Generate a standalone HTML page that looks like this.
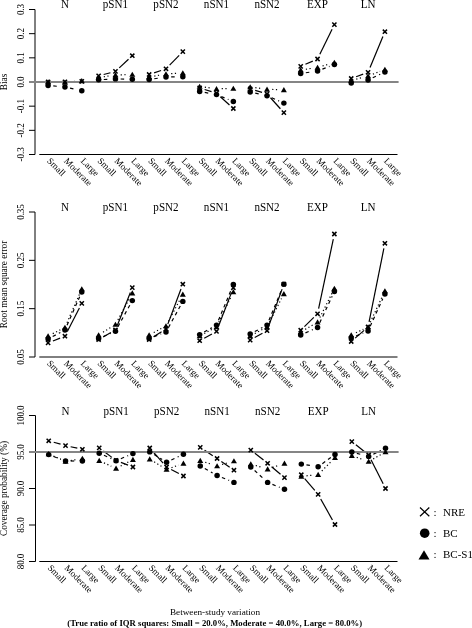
<!DOCTYPE html>
<html><head><meta charset="utf-8"><style>
html,body{margin:0;padding:0;background:#fff;}
svg{display:block;filter:grayscale(1);}
text{font-family:"Liberation Serif",serif;fill:#000;}
.ax{stroke:#000;stroke-width:1;}
.ref{stroke:#858585;stroke-width:2;}
.tk{font-size:9px;text-anchor:middle;}
.yl{font-size:9.3px;text-anchor:middle;}
.ti{font-size:11.1px;text-anchor:middle;}
.xl{font-size:9.2px;}
.dl line{stroke:#000;stroke-width:1.2;}
.sx path{stroke:#000;stroke-width:1.5;fill:none;}
.sf{fill:#000;}
.lg{font-size:11px;}
.bt{font-size:9.2px;text-anchor:middle;}
.bb{font-size:8.7px;font-weight:bold;text-anchor:middle;}
</style></head><body>
<svg width="472" height="628" viewBox="0 0 472 628">
<line x1="35" y1="9.5" x2="35" y2="154.5" class="ax"/>
<line x1="29" y1="9.5" x2="35" y2="9.5" class="ax"/>
<text transform="translate(23.8 9.5) rotate(-90) scale(1 1.14)" class="tk">0.3</text>
<line x1="29" y1="33.66666666666667" x2="35" y2="33.66666666666667" class="ax"/>
<text transform="translate(23.8 33.66666666666667) rotate(-90) scale(1 1.14)" class="tk">0.2</text>
<line x1="29" y1="57.833333333333336" x2="35" y2="57.833333333333336" class="ax"/>
<text transform="translate(23.8 57.833333333333336) rotate(-90) scale(1 1.14)" class="tk">0.1</text>
<line x1="29" y1="82.0" x2="35" y2="82.0" class="ax"/>
<text transform="translate(23.8 82.0) rotate(-90) scale(1 1.14)" class="tk">0.0</text>
<line x1="29" y1="106.16666666666667" x2="35" y2="106.16666666666667" class="ax"/>
<text transform="translate(23.8 106.16666666666667) rotate(-90) scale(1 1.14)" class="tk">-0.1</text>
<line x1="29" y1="130.33333333333331" x2="35" y2="130.33333333333331" class="ax"/>
<text transform="translate(23.8 130.33333333333331) rotate(-90) scale(1 1.14)" class="tk">-0.2</text>
<line x1="29" y1="154.5" x2="35" y2="154.5" class="ax"/>
<text transform="translate(23.8 154.5) rotate(-90) scale(1 1.14)" class="tk">-0.3</text>
<text transform="translate(7 82.0) rotate(-90)" class="yl">Bias</text>
<line x1="39.3" y1="154.5" x2="397.5" y2="154.5" class="ax"/>
<text transform="translate(64.94 7.6) scale(1 1.1)" class="ti">N</text>
<text transform="translate(115.46 7.6) scale(1 1.1)" class="ti">pSN1</text>
<text transform="translate(165.98 7.6) scale(1 1.1)" class="ti">pSN2</text>
<text transform="translate(216.50 7.6) scale(1 1.1)" class="ti">nSN1</text>
<text transform="translate(267.02 7.6) scale(1 1.1)" class="ti">nSN2</text>
<text transform="translate(317.54 7.6) scale(1 1.1)" class="ti">EXP</text>
<text transform="translate(368.06 7.6) scale(1 1.1)" class="ti">LN</text>
<text transform="translate(46.60 161.5) rotate(45)" class="xl">Small</text>
<text transform="translate(63.44 161.5) rotate(45)" class="xl">Moderate</text>
<text transform="translate(80.28 161.5) rotate(45)" class="xl">Large</text>
<text transform="translate(97.12 161.5) rotate(45)" class="xl">Small</text>
<text transform="translate(113.96 161.5) rotate(45)" class="xl">Moderate</text>
<text transform="translate(130.80 161.5) rotate(45)" class="xl">Large</text>
<text transform="translate(147.64 161.5) rotate(45)" class="xl">Small</text>
<text transform="translate(164.48 161.5) rotate(45)" class="xl">Moderate</text>
<text transform="translate(181.32 161.5) rotate(45)" class="xl">Large</text>
<text transform="translate(198.16 161.5) rotate(45)" class="xl">Small</text>
<text transform="translate(215.00 161.5) rotate(45)" class="xl">Moderate</text>
<text transform="translate(231.84 161.5) rotate(45)" class="xl">Large</text>
<text transform="translate(248.68 161.5) rotate(45)" class="xl">Small</text>
<text transform="translate(265.52 161.5) rotate(45)" class="xl">Moderate</text>
<text transform="translate(282.36 161.5) rotate(45)" class="xl">Large</text>
<text transform="translate(299.20 161.5) rotate(45)" class="xl">Small</text>
<text transform="translate(316.04 161.5) rotate(45)" class="xl">Moderate</text>
<text transform="translate(332.88 161.5) rotate(45)" class="xl">Large</text>
<text transform="translate(349.72 161.5) rotate(45)" class="xl">Small</text>
<text transform="translate(366.56 161.5) rotate(45)" class="xl">Moderate</text>
<text transform="translate(383.40 161.5) rotate(45)" class="xl">Large</text>
<g class="dl"><line x1="53.30" y1="81.94" x2="59.74" y2="81.86"/><line x1="70.14" y1="81.68" x2="76.58" y2="81.52"/><line x1="53.28" y1="85.96" x2="59.76" y2="86.54" stroke-dasharray="3.5,3.5"/><line x1="70.01" y1="88.14" x2="76.71" y2="89.66" stroke-dasharray="3.5,3.5"/><line x1="53.30" y1="82.09" x2="59.74" y2="82.21" stroke-dasharray="1.2,2.5"/><line x1="70.12" y1="81.87" x2="76.60" y2="81.33" stroke-dasharray="1.2,2.5"/><line x1="103.65" y1="74.49" x2="110.43" y2="72.71"/><line x1="119.26" y1="67.85" x2="128.50" y2="59.25"/><line x1="103.81" y1="79.52" x2="110.27" y2="79.18" stroke-dasharray="3.5,3.5"/><line x1="120.66" y1="78.99" x2="127.10" y2="79.11" stroke-dasharray="3.5,3.5"/><line x1="103.76" y1="76.74" x2="110.32" y2="75.76" stroke-dasharray="1.2,2.5"/><line x1="120.66" y1="74.85" x2="127.10" y2="74.65" stroke-dasharray="1.2,2.5"/><line x1="154.07" y1="72.83" x2="161.05" y2="70.47"/><line x1="169.62" y1="65.08" x2="179.18" y2="55.32"/><line x1="154.28" y1="78.74" x2="160.84" y2="77.76" stroke-dasharray="3.5,3.5"/><line x1="171.18" y1="76.94" x2="177.62" y2="76.86" stroke-dasharray="3.5,3.5"/><line x1="154.26" y1="76.09" x2="160.86" y2="74.91" stroke-dasharray="1.2,2.5"/><line x1="171.17" y1="73.69" x2="177.63" y2="73.31" stroke-dasharray="1.2,2.5"/><line x1="204.63" y1="89.53" x2="211.53" y2="91.67"/><line x1="220.35" y1="96.70" x2="229.49" y2="105.00"/><line x1="204.77" y1="92.44" x2="211.39" y2="93.66" stroke-dasharray="3.5,3.5"/><line x1="221.31" y1="96.57" x2="228.53" y2="99.53" stroke-dasharray="3.5,3.5"/><line x1="204.81" y1="87.20" x2="211.35" y2="88.10" stroke-dasharray="1.2,2.5"/><line x1="221.70" y1="88.71" x2="228.14" y2="88.59" stroke-dasharray="1.2,2.5"/><line x1="255.17" y1="90.45" x2="262.03" y2="92.45"/><line x1="270.50" y1="97.76" x2="280.38" y2="108.74"/><line x1="255.26" y1="93.12" x2="261.94" y2="94.58" stroke-dasharray="3.5,3.5"/><line x1="271.78" y1="97.79" x2="279.10" y2="101.01" stroke-dasharray="3.5,3.5"/><line x1="255.33" y1="87.70" x2="261.87" y2="88.60" stroke-dasharray="1.2,2.5"/><line x1="272.22" y1="89.45" x2="278.66" y2="89.65" stroke-dasharray="1.2,2.5"/><line x1="305.46" y1="64.31" x2="312.78" y2="61.09"/><line x1="319.83" y1="54.33" x2="332.09" y2="29.27"/><line x1="305.84" y1="72.74" x2="312.40" y2="71.76" stroke-dasharray="3.5,3.5"/><line x1="322.39" y1="69.13" x2="329.53" y2="66.37" stroke-dasharray="3.5,3.5"/><line x1="305.84" y1="69.24" x2="312.40" y2="68.26" stroke-dasharray="1.2,2.5"/><line x1="322.52" y1="66.02" x2="329.40" y2="63.98" stroke-dasharray="1.2,2.5"/><line x1="356.10" y1="76.70" x2="363.18" y2="74.10"/><line x1="370.05" y1="67.50" x2="382.91" y2="36.50"/><line x1="356.34" y1="82.09" x2="362.94" y2="80.91" stroke-dasharray="3.5,3.5"/><line x1="372.76" y1="77.77" x2="380.20" y2="74.23" stroke-dasharray="3.5,3.5"/><line x1="356.24" y1="79.16" x2="363.04" y2="77.34" stroke-dasharray="1.2,2.5"/><line x1="372.91" y1="74.13" x2="380.05" y2="71.37" stroke-dasharray="1.2,2.5"/></g>
<line x1="29.2" y1="82" x2="398.6" y2="82" class="ref"/>
<g class="sx"><path d="M46.00 79.90L50.20 84.10M46.00 84.10L50.20 79.90"/><path d="M62.84 79.70L67.04 83.90M62.84 83.90L67.04 79.70"/><path d="M79.68 79.30L83.88 83.50M79.68 83.50L83.88 79.30"/><path d="M96.52 73.70L100.72 77.90M96.52 77.90L100.72 73.70"/><path d="M113.36 69.30L117.56 73.50M113.36 73.50L117.56 69.30"/><path d="M130.20 53.60L134.40 57.80M130.20 57.80L134.40 53.60"/><path d="M147.04 72.40L151.24 76.60M147.04 76.60L151.24 72.40"/><path d="M163.88 66.70L168.08 70.90M163.88 70.90L168.08 66.70"/><path d="M180.72 49.50L184.92 53.70M180.72 53.70L184.92 49.50"/><path d="M197.56 85.90L201.76 90.10M197.56 90.10L201.76 85.90"/><path d="M214.40 91.10L218.60 95.30M214.40 95.30L218.60 91.10"/><path d="M231.24 106.40L235.44 110.60M231.24 110.60L235.44 106.40"/><path d="M248.08 86.90L252.28 91.10M248.08 91.10L252.28 86.90"/><path d="M264.92 91.80L269.12 96.00M264.92 96.00L269.12 91.80"/><path d="M281.76 110.50L285.96 114.70M281.76 114.70L285.96 110.50"/><path d="M298.60 64.30L302.80 68.50M298.60 68.50L302.80 64.30"/><path d="M315.44 56.90L319.64 61.10M315.44 61.10L319.64 56.90"/><path d="M332.28 22.50L336.48 26.70M332.28 26.70L336.48 22.50"/><path d="M349.12 76.40L353.32 80.60M349.12 80.60L353.32 76.40"/><path d="M365.96 70.20L370.16 74.40M365.96 74.40L370.16 70.20"/><path d="M382.80 29.60L387.00 33.80M382.80 33.80L387.00 29.60"/></g>
<g class="sf"><ellipse cx="48.10" cy="85.50" rx="2.75" ry="2.7"/><ellipse cx="64.94" cy="87.00" rx="2.75" ry="2.7"/><ellipse cx="81.78" cy="90.80" rx="2.75" ry="2.7"/><ellipse cx="98.62" cy="79.80" rx="2.75" ry="2.7"/><ellipse cx="115.46" cy="78.90" rx="2.75" ry="2.7"/><ellipse cx="132.30" cy="79.20" rx="2.75" ry="2.7"/><ellipse cx="149.14" cy="79.50" rx="2.75" ry="2.7"/><ellipse cx="165.98" cy="77.00" rx="2.75" ry="2.7"/><ellipse cx="182.82" cy="76.80" rx="2.75" ry="2.7"/><ellipse cx="199.66" cy="91.50" rx="2.75" ry="2.7"/><ellipse cx="216.50" cy="94.60" rx="2.75" ry="2.7"/><ellipse cx="233.34" cy="101.50" rx="2.75" ry="2.7"/><ellipse cx="250.18" cy="92.00" rx="2.75" ry="2.7"/><ellipse cx="267.02" cy="95.70" rx="2.75" ry="2.7"/><ellipse cx="283.86" cy="103.10" rx="2.75" ry="2.7"/><ellipse cx="300.70" cy="73.50" rx="2.75" ry="2.7"/><ellipse cx="317.54" cy="71.00" rx="2.75" ry="2.7"/><ellipse cx="334.38" cy="64.50" rx="2.75" ry="2.7"/><ellipse cx="351.22" cy="83.00" rx="2.75" ry="2.7"/><ellipse cx="368.06" cy="80.00" rx="2.75" ry="2.7"/><ellipse cx="384.90" cy="72.00" rx="2.75" ry="2.7"/><path d="M48.10 79.14L51.10 84.34L45.10 84.34Z"/><path d="M64.94 79.44L67.94 84.64L61.94 84.64Z"/><path d="M81.78 78.04L84.78 83.24L78.78 83.24Z"/><path d="M98.62 74.64L101.62 79.84L95.62 79.84Z"/><path d="M115.46 72.14L118.46 77.34L112.46 77.34Z"/><path d="M132.30 71.64L135.30 76.84L129.30 76.84Z"/><path d="M149.14 74.14L152.14 79.34L146.14 79.34Z"/><path d="M165.98 71.14L168.98 76.34L162.98 76.34Z"/><path d="M182.82 70.14L185.82 75.34L179.82 75.34Z"/><path d="M199.66 83.64L202.66 88.84L196.66 88.84Z"/><path d="M216.50 85.94L219.50 91.14L213.50 91.14Z"/><path d="M233.34 85.64L236.34 90.84L230.34 90.84Z"/><path d="M250.18 84.14L253.18 89.34L247.18 89.34Z"/><path d="M267.02 86.44L270.02 91.64L264.02 91.64Z"/><path d="M283.86 86.94L286.86 92.14L280.86 92.14Z"/><path d="M300.70 67.14L303.70 72.34L297.70 72.34Z"/><path d="M317.54 64.64L320.54 69.84L314.54 69.84Z"/><path d="M334.38 59.64L337.38 64.84L331.38 64.84Z"/><path d="M351.22 77.64L354.22 82.84L348.22 82.84Z"/><path d="M368.06 73.14L371.06 78.34L365.06 78.34Z"/><path d="M384.90 66.64L387.90 71.84L381.90 71.84Z"/></g>
<line x1="35" y1="212" x2="35" y2="357" class="ax"/>
<line x1="29" y1="212.0" x2="35" y2="212.0" class="ax"/>
<text transform="translate(23.8 212.0) rotate(-90) scale(1 1.14)" class="tk">0.35</text>
<line x1="29" y1="260.3333333333333" x2="35" y2="260.3333333333333" class="ax"/>
<text transform="translate(23.8 260.3333333333333) rotate(-90) scale(1 1.14)" class="tk">0.25</text>
<line x1="29" y1="308.6666666666667" x2="35" y2="308.6666666666667" class="ax"/>
<text transform="translate(23.8 308.6666666666667) rotate(-90) scale(1 1.14)" class="tk">0.15</text>
<line x1="29" y1="357.0" x2="35" y2="357.0" class="ax"/>
<text transform="translate(23.8 357.0) rotate(-90) scale(1 1.14)" class="tk">0.05</text>
<text transform="translate(7 284.5) rotate(-90)" class="yl">Root mean square error</text>
<line x1="39.3" y1="357" x2="397.5" y2="357" class="ax"/>
<text transform="translate(64.94 210.6) scale(1 1.1)" class="ti">N</text>
<text transform="translate(115.46 210.6) scale(1 1.1)" class="ti">pSN1</text>
<text transform="translate(165.98 210.6) scale(1 1.1)" class="ti">pSN2</text>
<text transform="translate(216.50 210.6) scale(1 1.1)" class="ti">nSN1</text>
<text transform="translate(267.02 210.6) scale(1 1.1)" class="ti">nSN2</text>
<text transform="translate(317.54 210.6) scale(1 1.1)" class="ti">EXP</text>
<text transform="translate(368.06 210.6) scale(1 1.1)" class="ti">LN</text>
<text transform="translate(46.60 364) rotate(45)" class="xl">Small</text>
<text transform="translate(63.44 364) rotate(45)" class="xl">Moderate</text>
<text transform="translate(80.28 364) rotate(45)" class="xl">Large</text>
<text transform="translate(97.12 364) rotate(45)" class="xl">Small</text>
<text transform="translate(113.96 364) rotate(45)" class="xl">Moderate</text>
<text transform="translate(130.80 364) rotate(45)" class="xl">Large</text>
<text transform="translate(147.64 364) rotate(45)" class="xl">Small</text>
<text transform="translate(164.48 364) rotate(45)" class="xl">Moderate</text>
<text transform="translate(181.32 364) rotate(45)" class="xl">Large</text>
<text transform="translate(198.16 364) rotate(45)" class="xl">Small</text>
<text transform="translate(215.00 364) rotate(45)" class="xl">Moderate</text>
<text transform="translate(231.84 364) rotate(45)" class="xl">Large</text>
<text transform="translate(248.68 364) rotate(45)" class="xl">Small</text>
<text transform="translate(265.52 364) rotate(45)" class="xl">Moderate</text>
<text transform="translate(282.36 364) rotate(45)" class="xl">Large</text>
<text transform="translate(299.20 364) rotate(45)" class="xl">Small</text>
<text transform="translate(316.04 364) rotate(45)" class="xl">Moderate</text>
<text transform="translate(332.88 364) rotate(45)" class="xl">Large</text>
<text transform="translate(349.72 364) rotate(45)" class="xl">Small</text>
<text transform="translate(366.56 364) rotate(45)" class="xl">Moderate</text>
<text transform="translate(383.40 364) rotate(45)" class="xl">Large</text>
<g class="dl"><line x1="52.93" y1="340.98" x2="60.11" y2="338.12"/><line x1="67.32" y1="331.57" x2="79.40" y2="308.03"/><line x1="52.69" y1="336.55" x2="60.35" y2="332.45" stroke-dasharray="3.5,3.5"/><line x1="67.05" y1="325.25" x2="79.67" y2="296.75" stroke-dasharray="3.5,3.5"/><line x1="52.74" y1="333.66" x2="60.30" y2="329.84" stroke-dasharray="1.2,2.5"/><line x1="67.02" y1="322.74" x2="79.70" y2="293.76" stroke-dasharray="1.2,2.5"/><line x1="103.15" y1="336.95" x2="110.93" y2="332.55"/><line x1="117.38" y1="325.17" x2="130.38" y2="292.43"/><line x1="103.39" y1="336.43" x2="110.69" y2="333.27" stroke-dasharray="3.5,3.5"/><line x1="117.97" y1="326.64" x2="129.79" y2="305.16" stroke-dasharray="3.5,3.5"/><line x1="103.03" y1="332.25" x2="111.05" y2="327.25" stroke-dasharray="1.2,2.5"/><line x1="117.92" y1="319.92" x2="129.84" y2="297.68" stroke-dasharray="1.2,2.5"/><line x1="153.55" y1="336.75" x2="161.57" y2="331.75"/><line x1="167.81" y1="324.13" x2="180.99" y2="289.07"/><line x1="153.99" y1="336.63" x2="161.13" y2="333.87" stroke-dasharray="3.5,3.5"/><line x1="168.49" y1="327.44" x2="180.31" y2="305.96" stroke-dasharray="3.5,3.5"/><line x1="153.73" y1="332.55" x2="161.39" y2="328.45" stroke-dasharray="1.2,2.5"/><line x1="168.42" y1="321.41" x2="180.38" y2="298.89" stroke-dasharray="1.2,2.5"/><line x1="204.21" y1="338.19" x2="211.95" y2="333.91"/><line x1="218.37" y1="326.55" x2="231.47" y2="292.65"/><line x1="204.19" y1="332.05" x2="211.97" y2="327.65" stroke-dasharray="3.5,3.5"/><line x1="218.49" y1="320.30" x2="231.35" y2="289.30" stroke-dasharray="3.5,3.5"/><line x1="204.25" y1="333.55" x2="211.91" y2="329.45" stroke-dasharray="1.2,2.5"/><line x1="218.75" y1="322.31" x2="231.09" y2="296.69" stroke-dasharray="1.2,2.5"/><line x1="254.72" y1="337.57" x2="262.48" y2="333.23"/><line x1="268.79" y1="325.81" x2="282.09" y2="289.09"/><line x1="254.78" y1="331.57" x2="262.42" y2="327.53" stroke-dasharray="3.5,3.5"/><line x1="269.00" y1="320.29" x2="281.88" y2="289.01" stroke-dasharray="3.5,3.5"/><line x1="254.77" y1="333.55" x2="262.43" y2="329.45" stroke-dasharray="1.2,2.5"/><line x1="269.38" y1="322.37" x2="281.50" y2="298.53" stroke-dasharray="1.2,2.5"/><line x1="304.43" y1="326.57" x2="313.81" y2="317.43"/><line x1="318.61" y1="308.71" x2="333.31" y2="239.09"/><line x1="305.45" y1="332.88" x2="312.79" y2="329.62" stroke-dasharray="3.5,3.5"/><line x1="319.74" y1="322.79" x2="332.18" y2="296.21" stroke-dasharray="3.5,3.5"/><line x1="305.19" y1="329.38" x2="313.05" y2="324.82" stroke-dasharray="1.2,2.5"/><line x1="319.86" y1="317.55" x2="332.06" y2="293.15" stroke-dasharray="1.2,2.5"/><line x1="355.16" y1="338.11" x2="364.12" y2="330.39"/><line x1="369.09" y1="321.90" x2="383.87" y2="248.40"/><line x1="356.02" y1="336.00" x2="363.26" y2="333.00" stroke-dasharray="3.5,3.5"/><line x1="370.21" y1="326.27" x2="382.75" y2="298.73" stroke-dasharray="3.5,3.5"/><line x1="355.92" y1="332.77" x2="363.36" y2="329.23" stroke-dasharray="1.2,2.5"/><line x1="370.26" y1="322.29" x2="382.70" y2="295.71" stroke-dasharray="1.2,2.5"/></g>
<g class="sx"><path d="M46.00 340.80L50.20 345.00M46.00 345.00L50.20 340.80"/><path d="M62.84 334.10L67.04 338.30M62.84 338.30L67.04 334.10"/><path d="M79.68 301.30L83.88 305.50M79.68 305.50L83.88 301.30"/><path d="M96.52 337.40L100.72 341.60M96.52 341.60L100.72 337.40"/><path d="M113.36 327.90L117.56 332.10M113.36 332.10L117.56 327.90"/><path d="M130.20 285.50L134.40 289.70M130.20 289.70L134.40 285.50"/><path d="M147.04 337.40L151.24 341.60M147.04 341.60L151.24 337.40"/><path d="M163.88 326.90L168.08 331.10M163.88 331.10L168.08 326.90"/><path d="M180.72 282.10L184.92 286.30M180.72 286.30L184.92 282.10"/><path d="M197.56 338.60L201.76 342.80M197.56 342.80L201.76 338.60"/><path d="M214.40 329.30L218.60 333.50M214.40 333.50L218.60 329.30"/><path d="M231.24 285.70L235.44 289.90M231.24 289.90L235.44 285.70"/><path d="M248.08 338.00L252.28 342.20M248.08 342.20L252.28 338.00"/><path d="M264.92 328.60L269.12 332.80M264.92 332.80L269.12 328.60"/><path d="M281.76 282.10L285.96 286.30M281.76 286.30L285.96 282.10"/><path d="M298.60 328.10L302.80 332.30M298.60 332.30L302.80 328.10"/><path d="M315.44 311.70L319.64 315.90M315.44 315.90L319.64 311.70"/><path d="M332.28 231.90L336.48 236.10M332.28 236.10L336.48 231.90"/><path d="M349.12 339.40L353.32 343.60M349.12 343.60L353.32 339.40"/><path d="M365.96 324.90L370.16 329.10M365.96 329.10L370.16 324.90"/><path d="M382.80 241.20L387.00 245.40M382.80 245.40L387.00 241.20"/></g>
<g class="sf"><ellipse cx="48.10" cy="339.00" rx="2.75" ry="2.7"/><ellipse cx="64.94" cy="330.00" rx="2.75" ry="2.7"/><ellipse cx="81.78" cy="292.00" rx="2.75" ry="2.7"/><ellipse cx="98.62" cy="338.50" rx="2.75" ry="2.7"/><ellipse cx="115.46" cy="331.20" rx="2.75" ry="2.7"/><ellipse cx="132.30" cy="300.60" rx="2.75" ry="2.7"/><ellipse cx="149.14" cy="338.50" rx="2.75" ry="2.7"/><ellipse cx="165.98" cy="332.00" rx="2.75" ry="2.7"/><ellipse cx="182.82" cy="301.40" rx="2.75" ry="2.7"/><ellipse cx="199.66" cy="334.60" rx="2.75" ry="2.7"/><ellipse cx="216.50" cy="325.10" rx="2.75" ry="2.7"/><ellipse cx="233.34" cy="284.50" rx="2.75" ry="2.7"/><ellipse cx="250.18" cy="334.00" rx="2.75" ry="2.7"/><ellipse cx="267.02" cy="325.10" rx="2.75" ry="2.7"/><ellipse cx="283.86" cy="284.20" rx="2.75" ry="2.7"/><ellipse cx="300.70" cy="335.00" rx="2.75" ry="2.7"/><ellipse cx="317.54" cy="327.50" rx="2.75" ry="2.7"/><ellipse cx="334.38" cy="291.50" rx="2.75" ry="2.7"/><ellipse cx="351.22" cy="338.00" rx="2.75" ry="2.7"/><ellipse cx="368.06" cy="331.00" rx="2.75" ry="2.7"/><ellipse cx="384.90" cy="294.00" rx="2.75" ry="2.7"/><path d="M48.10 333.14L51.10 338.34L45.10 338.34Z"/><path d="M64.94 324.64L67.94 329.84L61.94 329.84Z"/><path d="M81.78 286.14L84.78 291.34L78.78 291.34Z"/><path d="M98.62 332.14L101.62 337.34L95.62 337.34Z"/><path d="M115.46 321.64L118.46 326.84L112.46 326.84Z"/><path d="M132.30 290.24L135.30 295.44L129.30 295.44Z"/><path d="M149.14 332.14L152.14 337.34L146.14 337.34Z"/><path d="M165.98 323.14L168.98 328.34L162.98 328.34Z"/><path d="M182.82 291.44L185.82 296.64L179.82 296.64Z"/><path d="M199.66 333.14L202.66 338.34L196.66 338.34Z"/><path d="M216.50 324.14L219.50 329.34L213.50 329.34Z"/><path d="M233.34 289.14L236.34 294.34L230.34 294.34Z"/><path d="M250.18 333.14L253.18 338.34L247.18 338.34Z"/><path d="M267.02 324.14L270.02 329.34L264.02 329.34Z"/><path d="M283.86 291.04L286.86 296.24L280.86 296.24Z"/><path d="M300.70 329.14L303.70 334.34L297.70 334.34Z"/><path d="M317.54 319.34L320.54 324.54L314.54 324.54Z"/><path d="M334.38 285.64L337.38 290.84L331.38 290.84Z"/><path d="M351.22 332.14L354.22 337.34L348.22 337.34Z"/><path d="M368.06 324.14L371.06 329.34L365.06 329.34Z"/><path d="M384.90 288.14L387.90 293.34L381.90 293.34Z"/></g>
<line x1="35.5" y1="415.5" x2="35.5" y2="561.5" class="ax"/>
<line x1="29" y1="415.5" x2="35.5" y2="415.5" class="ax"/>
<text transform="translate(23.8 415.5) rotate(-90) scale(1 1.14)" class="tk">100.0</text>
<line x1="29" y1="452.0" x2="35.5" y2="452.0" class="ax"/>
<text transform="translate(23.8 452.0) rotate(-90) scale(1 1.14)" class="tk">95.0</text>
<line x1="29" y1="488.5" x2="35.5" y2="488.5" class="ax"/>
<text transform="translate(23.8 488.5) rotate(-90) scale(1 1.14)" class="tk">90.0</text>
<line x1="29" y1="525.0" x2="35.5" y2="525.0" class="ax"/>
<text transform="translate(23.8 525.0) rotate(-90) scale(1 1.14)" class="tk">85.0</text>
<line x1="29" y1="561.5" x2="35.5" y2="561.5" class="ax"/>
<text transform="translate(23.8 561.5) rotate(-90) scale(1 1.14)" class="tk">80.0</text>
<text transform="translate(7 488.5) rotate(-90)" class="yl">Coverage probability (%)</text>
<line x1="39.3" y1="561.5" x2="397.5" y2="561.5" class="ax"/>
<text transform="translate(65.54 414.8) scale(1 1.1)" class="ti">N</text>
<text transform="translate(116.06 414.8) scale(1 1.1)" class="ti">pSN1</text>
<text transform="translate(166.58 414.8) scale(1 1.1)" class="ti">pSN2</text>
<text transform="translate(217.10 414.8) scale(1 1.1)" class="ti">nSN1</text>
<text transform="translate(267.62 414.8) scale(1 1.1)" class="ti">nSN2</text>
<text transform="translate(318.14 414.8) scale(1 1.1)" class="ti">EXP</text>
<text transform="translate(368.66 414.8) scale(1 1.1)" class="ti">LN</text>
<text transform="translate(47.20 568.5) rotate(45)" class="xl">Small</text>
<text transform="translate(64.04 568.5) rotate(45)" class="xl">Moderate</text>
<text transform="translate(80.88 568.5) rotate(45)" class="xl">Large</text>
<text transform="translate(97.72 568.5) rotate(45)" class="xl">Small</text>
<text transform="translate(114.56 568.5) rotate(45)" class="xl">Moderate</text>
<text transform="translate(131.40 568.5) rotate(45)" class="xl">Large</text>
<text transform="translate(148.24 568.5) rotate(45)" class="xl">Small</text>
<text transform="translate(165.08 568.5) rotate(45)" class="xl">Moderate</text>
<text transform="translate(181.92 568.5) rotate(45)" class="xl">Large</text>
<text transform="translate(198.76 568.5) rotate(45)" class="xl">Small</text>
<text transform="translate(215.60 568.5) rotate(45)" class="xl">Moderate</text>
<text transform="translate(232.44 568.5) rotate(45)" class="xl">Large</text>
<text transform="translate(249.28 568.5) rotate(45)" class="xl">Small</text>
<text transform="translate(266.12 568.5) rotate(45)" class="xl">Moderate</text>
<text transform="translate(282.96 568.5) rotate(45)" class="xl">Large</text>
<text transform="translate(299.80 568.5) rotate(45)" class="xl">Small</text>
<text transform="translate(316.64 568.5) rotate(45)" class="xl">Moderate</text>
<text transform="translate(333.48 568.5) rotate(45)" class="xl">Large</text>
<text transform="translate(350.32 568.5) rotate(45)" class="xl">Small</text>
<text transform="translate(367.16 568.5) rotate(45)" class="xl">Moderate</text>
<text transform="translate(384.00 568.5) rotate(45)" class="xl">Large</text>
<g class="dl"><line x1="53.70" y1="442.23" x2="60.54" y2="444.17"/><line x1="70.62" y1="446.72" x2="77.30" y2="448.18"/><line x1="53.56" y1="456.45" x2="60.68" y2="459.15" stroke-dasharray="3.5,3.5"/><line x1="70.74" y1="461.00" x2="77.18" y2="461.00" stroke-dasharray="3.5,3.5"/><line x1="53.43" y1="455.96" x2="60.81" y2="459.34" stroke-dasharray="1.2,2.5"/><line x1="70.66" y1="460.59" x2="77.26" y2="459.41" stroke-dasharray="1.2,2.5"/><line x1="103.38" y1="451.02" x2="111.90" y2="457.38"/><line x1="120.91" y1="462.37" x2="128.05" y2="465.13"/><line x1="103.97" y1="455.32" x2="111.31" y2="458.58" stroke-dasharray="3.5,3.5"/><line x1="120.85" y1="458.68" x2="128.11" y2="455.62" stroke-dasharray="3.5,3.5"/><line x1="103.95" y1="462.86" x2="111.33" y2="466.24" stroke-dasharray="1.2,2.5"/><line x1="120.67" y1="465.99" x2="128.29" y2="462.01" stroke-dasharray="1.2,2.5"/><line x1="153.19" y1="451.89" x2="163.13" y2="463.11"/><line x1="171.17" y1="469.45" x2="178.83" y2="473.55"/><line x1="154.18" y1="454.61" x2="162.14" y2="459.49" stroke-dasharray="3.5,3.5"/><line x1="171.29" y1="459.99" x2="178.71" y2="456.51" stroke-dasharray="3.5,3.5"/><line x1="154.16" y1="461.83" x2="162.16" y2="466.77" stroke-dasharray="1.2,2.5"/><line x1="171.46" y1="467.70" x2="178.54" y2="465.10" stroke-dasharray="1.2,2.5"/><line x1="204.60" y1="450.26" x2="212.76" y2="455.64"/><line x1="221.37" y1="461.47" x2="229.67" y2="467.23"/><line x1="204.79" y1="468.55" x2="212.57" y2="472.95" stroke-dasharray="3.5,3.5"/><line x1="221.91" y1="477.47" x2="229.13" y2="480.43" stroke-dasharray="3.5,3.5"/><line x1="205.22" y1="462.26" x2="212.14" y2="464.44" stroke-dasharray="1.2,2.5"/><line x1="222.08" y1="464.52" x2="228.96" y2="462.48" stroke-dasharray="1.2,2.5"/><line x1="254.87" y1="453.31" x2="263.53" y2="460.09"/><line x1="271.58" y1="466.67" x2="280.50" y2="474.23"/><line x1="254.62" y1="470.51" x2="263.78" y2="478.89" stroke-dasharray="3.5,3.5"/><line x1="272.43" y1="484.37" x2="279.65" y2="487.33" stroke-dasharray="3.5,3.5"/><line x1="255.76" y1="465.51" x2="262.64" y2="467.59" stroke-dasharray="1.2,2.5"/><line x1="272.54" y1="467.41" x2="279.54" y2="464.99" stroke-dasharray="1.2,2.5"/><line x1="304.68" y1="478.65" x2="314.76" y2="490.45"/><line x1="320.68" y1="498.94" x2="332.44" y2="519.96"/><line x1="306.44" y1="464.89" x2="313.00" y2="465.91" stroke-dasharray="3.5,3.5"/><line x1="322.35" y1="463.65" x2="330.77" y2="457.55" stroke-dasharray="3.5,3.5"/><line x1="306.48" y1="475.81" x2="312.96" y2="475.19" stroke-dasharray="1.2,2.5"/><line x1="321.80" y1="471.01" x2="331.32" y2="461.39" stroke-dasharray="1.2,2.5"/><line x1="355.89" y1="444.84" x2="364.59" y2="451.76"/><line x1="371.00" y1="459.65" x2="383.16" y2="483.85"/><line x1="356.84" y1="453.34" x2="363.64" y2="455.16" stroke-dasharray="3.5,3.5"/><line x1="373.32" y1="454.20" x2="380.84" y2="450.50" stroke-dasharray="3.5,3.5"/><line x1="356.74" y1="457.39" x2="363.74" y2="459.81" stroke-dasharray="1.2,2.5"/><line x1="373.19" y1="458.95" x2="380.97" y2="454.55" stroke-dasharray="1.2,2.5"/></g>
<line x1="29.2" y1="452" x2="398.6" y2="452" class="ref"/>
<g class="sx"><path d="M46.60 438.70L50.80 442.90M46.60 442.90L50.80 438.70"/><path d="M63.44 443.50L67.64 447.70M63.44 447.70L67.64 443.50"/><path d="M80.28 447.20L84.48 451.40M80.28 451.40L84.48 447.20"/><path d="M97.12 445.80L101.32 450.00M97.12 450.00L101.32 445.80"/><path d="M113.96 458.40L118.16 462.60M113.96 462.60L118.16 458.40"/><path d="M130.80 464.90L135.00 469.10M130.80 469.10L135.00 464.90"/><path d="M147.64 445.90L151.84 450.10M147.64 450.10L151.84 445.90"/><path d="M164.48 464.90L168.68 469.10M164.48 469.10L168.68 464.90"/><path d="M181.32 473.90L185.52 478.10M181.32 478.10L185.52 473.90"/><path d="M198.16 445.30L202.36 449.50M198.16 449.50L202.36 445.30"/><path d="M215.00 456.40L219.20 460.60M215.00 460.60L219.20 456.40"/><path d="M231.84 468.10L236.04 472.30M231.84 472.30L236.04 468.10"/><path d="M248.68 448.00L252.88 452.20M248.68 452.20L252.88 448.00"/><path d="M265.52 461.20L269.72 465.40M265.52 465.40L269.72 461.20"/><path d="M282.36 475.50L286.56 479.70M282.36 479.70L286.56 475.50"/><path d="M299.20 472.60L303.40 476.80M299.20 476.80L303.40 472.60"/><path d="M316.04 492.30L320.24 496.50M316.04 496.50L320.24 492.30"/><path d="M332.88 522.40L337.08 526.60M332.88 526.60L337.08 522.40"/><path d="M349.72 439.50L353.92 443.70M349.72 443.70L353.92 439.50"/><path d="M366.56 452.90L370.76 457.10M366.56 457.10L370.76 452.90"/><path d="M383.40 486.40L387.60 490.60M383.40 490.60L387.60 486.40"/></g>
<g class="sf"><ellipse cx="48.70" cy="454.60" rx="2.75" ry="2.7"/><ellipse cx="65.54" cy="461.00" rx="2.75" ry="2.7"/><ellipse cx="82.38" cy="461.00" rx="2.75" ry="2.7"/><ellipse cx="99.22" cy="453.20" rx="2.75" ry="2.7"/><ellipse cx="116.06" cy="460.70" rx="2.75" ry="2.7"/><ellipse cx="132.90" cy="453.60" rx="2.75" ry="2.7"/><ellipse cx="149.74" cy="451.90" rx="2.75" ry="2.7"/><ellipse cx="166.58" cy="462.20" rx="2.75" ry="2.7"/><ellipse cx="183.42" cy="454.30" rx="2.75" ry="2.7"/><ellipse cx="200.26" cy="466.00" rx="2.75" ry="2.7"/><ellipse cx="217.10" cy="475.50" rx="2.75" ry="2.7"/><ellipse cx="233.94" cy="482.40" rx="2.75" ry="2.7"/><ellipse cx="250.78" cy="467.00" rx="2.75" ry="2.7"/><ellipse cx="267.62" cy="482.40" rx="2.75" ry="2.7"/><ellipse cx="284.46" cy="489.30" rx="2.75" ry="2.7"/><ellipse cx="301.30" cy="464.10" rx="2.75" ry="2.7"/><ellipse cx="318.14" cy="466.70" rx="2.75" ry="2.7"/><ellipse cx="334.98" cy="454.50" rx="2.75" ry="2.7"/><ellipse cx="351.82" cy="452.00" rx="2.75" ry="2.7"/><ellipse cx="368.66" cy="456.50" rx="2.75" ry="2.7"/><ellipse cx="385.50" cy="448.20" rx="2.75" ry="2.7"/><path d="M48.70 450.94L51.70 456.14L45.70 456.14Z"/><path d="M65.54 458.64L68.54 463.84L62.54 463.84Z"/><path d="M82.38 455.64L85.38 460.84L79.38 460.84Z"/><path d="M99.22 457.84L102.22 463.04L96.22 463.04Z"/><path d="M116.06 465.54L119.06 470.74L113.06 470.74Z"/><path d="M132.90 456.74L135.90 461.94L129.90 461.94Z"/><path d="M149.74 456.24L152.74 461.44L146.74 461.44Z"/><path d="M166.58 466.64L169.58 471.84L163.58 471.84Z"/><path d="M183.42 460.44L186.42 465.64L180.42 465.64Z"/><path d="M200.26 457.84L203.26 463.04L197.26 463.04Z"/><path d="M217.10 463.14L220.10 468.34L214.10 468.34Z"/><path d="M233.94 458.14L236.94 463.34L230.94 463.34Z"/><path d="M250.78 461.14L253.78 466.34L247.78 466.34Z"/><path d="M267.62 466.24L270.62 471.44L264.62 471.44Z"/><path d="M284.46 460.44L287.46 465.64L281.46 465.64Z"/><path d="M301.30 473.44L304.30 478.64L298.30 478.64Z"/><path d="M318.14 471.84L321.14 477.04L315.14 477.04Z"/><path d="M334.98 454.84L337.98 460.04L331.98 460.04Z"/><path d="M351.82 452.84L354.82 458.04L348.82 458.04Z"/><path d="M368.66 458.64L371.66 463.84L365.66 463.84Z"/><path d="M385.50 449.14L388.50 454.34L382.50 454.34Z"/></g>
<path d="M420 507.5L429.3 516.3M420 516.3L429.3 507.5" stroke="#000" stroke-width="1.25" fill="none"/>
<circle cx="424.7" cy="533.2" r="4.8"/>
<path d="M424 550.2L429.5 559.4L418.5 559.4Z"/>
<text x="433.5" y="515.6" class="lg">:</text>
<text x="433.5" y="536.5" class="lg">:</text>
<text x="433.5" y="558" class="lg">:</text>
<text x="443" y="515.6" class="lg">NRE</text>
<text x="443" y="536.5" class="lg">BC</text>
<text x="443" y="558" class="lg">BC-S1</text>
<text x="215" y="614.8" class="bt">Between-study variation</text>
<text x="214.7" y="626.3" class="bb">(True ratio of IQR squares: Small = 20.0%, Moderate = 40.0%, Large = 80.0%)</text>
</svg>
</body></html>
